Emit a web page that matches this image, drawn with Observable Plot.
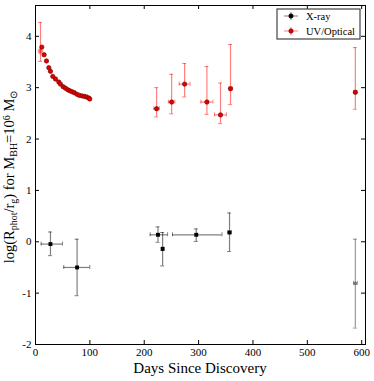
<!DOCTYPE html>
<html><head><meta charset="utf-8">
<script src="https://cdn.jsdelivr.net/npm/d3@7"></script>
<script src="https://cdn.jsdelivr.net/npm/@observablehq/plot@0.6"></script>
<style>body{margin:0;background:#fff;} svg{font-family:"Liberation Serif",serif;}</style>
</head><body><div id="chart"></div>
<script>
// UV/Optical dense early points
const uvDays = [11.6,15.9,20.2,24.5,27.5,31.8,36.7,42.8,45.9,50.8,55.1,59.4,63.0,67.3,71.6,76.5,80.8,85.7,90.0,93.7,97.9,99.8];
const uvVals = [3.79,3.64,3.52,3.39,3.32,3.22,3.17,3.11,3.07,3.02,2.99,2.96,2.94,2.92,2.90,2.87,2.85,2.84,2.83,2.82,2.80,2.78];
const uvXerr = [0,0,0,0,0,0,0,0,0,0,0,0,0,0,1,1,2,2,2,2,2,2];
// UV/Optical points with error bars
const uvEDays = [9.2,222.8,250.4,274.3,315.3,340.3,358.7,588.3];
const uvEVals = [3.71,2.59,2.72,3.07,2.72,2.47,2.98,2.91];
const uvELo   = [3.51,2.43,2.49,2.82,2.48,2.30,2.67,2.58];
const uvEHi   = [4.27,3.00,3.26,3.47,3.41,3.09,3.84,3.78];
const uvEXerr = [1,5,6,10,11,11,3,3];
// X-ray
const xrDays = [27.5,76.5,225.3,233.8,295.7,356.9,588.3];
const xrVals = [-0.045,-0.50,0.136,-0.14,0.136,0.18,-0.81];
const xrLo   = [-0.27,-1.05,-0.01,-0.47,0.006,-0.19,-1.68];
const xrHi   = [0.19,0.05,0.29,0.18,0.25,0.56,0.05];
const xrXlo  = [10.4,52,211,232,252,354,585];
const xrXhi  = [49.6,99.8,243,236,343,360,592];
const xTicks = [0,100,200,300,400,500,600];
const yTicks = [-2,-1,0,1,2,3,4];

const uv = uvDays.map((d,i)=>({x:d,y:uvVals[i],x1:d-uvXerr[i],x2:d+uvXerr[i]}));
const uvE = uvEDays.map((d,i)=>({x:d,y:uvEVals[i],lo:uvELo[i],hi:uvEHi[i],x1:d-uvEXerr[i],x2:d+uvEXerr[i]}));
const xr = xrDays.map((d,i)=>({x:d,y:xrVals[i],lo:xrLo[i],hi:xrHi[i],x1:xrXlo[i],x2:xrXhi[i],faint:i===6}));

function errMarks(data, color, op){
  return [
    Plot.ruleX(data,{x:"x",y1:"lo",y2:"hi",stroke:color,strokeOpacity:op,strokeWidth:1.2}),
    Plot.ruleY(data,{y:"lo",x1:"x",x2:"x",insetLeft:-2,insetRight:-2,stroke:color,strokeOpacity:op}),
    Plot.ruleY(data,{y:"hi",x1:"x",x2:"x",insetLeft:-2,insetRight:-2,stroke:color,strokeOpacity:op}),
    Plot.ruleY(data,{y:"y",x1:"x1",x2:"x2",stroke:color,strokeOpacity:op,strokeWidth:1.2}),
    Plot.ruleX(data,{x:"x1",y1:"y",y2:"y",insetTop:-2,insetBottom:-2,stroke:color,strokeOpacity:op}),
    Plot.ruleX(data,{x:"x2",y1:"y",y2:"y",insetTop:-2,insetBottom:-2,stroke:color,strokeOpacity:op})
  ];
}

const svg = Plot.plot({
  width:374, height:381,
  marginLeft:35, marginRight:9, marginTop:5, marginBottom:37,
  style:{fontFamily:"Liberation Serif, serif", fontSize:"11px", background:"#fff", color:"black"},
  x:{domain:[0,607], ticks:xTicks, label:null},
  y:{domain:[-2,4.6], ticks:yTicks, label:null},
  marks:[
    ...errMarks(xr.filter(d=>!d.faint),"black",0.5),
    ...errMarks(xr.filter(d=>d.faint),"black",0.4),
    ...errMarks(uvE,"red",0.5),
    Plot.ruleY(uv.filter(d=>d.x2>d.x1),{y:"y",x1:"x1",x2:"x2",stroke:"red",strokeOpacity:0.3,strokeWidth:3}),
    Plot.dot(uvE.slice(0,1),{x:"x",y:"y",r:2.2,fill:"red",fillOpacity:0.25,stroke:"red",strokeOpacity:0.3}),
    Plot.dot(uvE.slice(1),{x:"x",y:"y",r:2.2,fill:"#e00000",stroke:"#700000",strokeWidth:0.6}),
    Plot.dot(uv,{x:"x",y:"y",r:2.2,fill:"#e00000",stroke:"#700000",strokeWidth:0.6}),
    Plot.dot(xr.filter(d=>!d.faint),{x:"x",y:"y",symbol:"square",r:2.2,fill:"black"}),
    Plot.dot(xr.filter(d=>d.faint),{x:"x",y:"y",r:1.8,fill:"#777"}),
    Plot.tickX(xTicks,{x:d=>d,insetTop:335,stroke:"black"}),
    Plot.tickX(xTicks,{x:d=>d,insetBottom:335,stroke:"black"}),
    Plot.tickY(yTicks,{y:d=>d,insetRight:326,stroke:"black"}),
    Plot.tickY(yTicks,{y:d=>d,insetLeft:326,stroke:"black"}),
    Plot.axisX({ticks:xTicks,tickSize:0,tickPadding:4,tickFormat:d=>String(d),fontSize:11}),
    Plot.axisY({ticks:yTicks,tickSize:0,tickPadding:4,tickFormat:d=>String(d),fontSize:11}),
    Plot.frame({stroke:"black",strokeWidth:1})
  ]
});
document.getElementById("chart").appendChild(svg);

const s = d3.select(svg);
// x label
s.append("text").attr("x",200).attr("y",373).attr("text-anchor","middle")
  .attr("font-size","15px").attr("fill","black").text("Days Since Discovery");
// y label with sub/superscripts
const yl = s.append("text").attr("transform","translate(14,177) rotate(-90)")
  .attr("text-anchor","middle").attr("font-size","14.5px").attr("fill","black");
const parts = [["log(R",0],["phot",-1],["/r",0],["g",-1],[") for M",0],["BH",-1],["=10",0],["6",1],[" M",0],["⊙",-1]];
parts.forEach(([t,k])=>{
  const ts = yl.append("tspan").text(t);
  if(k===-1) ts.attr("baseline-shift","-25%").attr("font-size","10px");
  if(k===1) ts.attr("baseline-shift","40%").attr("font-size","10px");
});
// legend
const lg = s.append("g");
lg.append("rect").attr("x",277).attr("y",9).attr("width",83).attr("height",30)
  .attr("fill","white").attr("stroke","#444").attr("stroke-width",1.2);
const entries = [["X-ray","black",16],["UV/Optical","red",31]];
entries.forEach(([t,c,y])=>{
  lg.append("line").attr("x1",284).attr("x2",298).attr("y1",y).attr("y2",y).attr("stroke",c).attr("stroke-opacity",0.5);
  lg.append("line").attr("x1",291).attr("x2",291).attr("y1",y-4).attr("y2",y+4).attr("stroke",c).attr("stroke-opacity",0.5);
  lg.append("circle").attr("cx",291).attr("cy",y).attr("r",2.2).attr("fill",c==="red"?"#e00000":"black").attr("stroke",c==="red"?"#700000":"black").attr("stroke-width",0.6);
  lg.append("text").attr("x",306).attr("y",y+3.5).attr("text-anchor","start").attr("font-size","10.5px").attr("fill","black").text(t);
});
</script></body></html>
